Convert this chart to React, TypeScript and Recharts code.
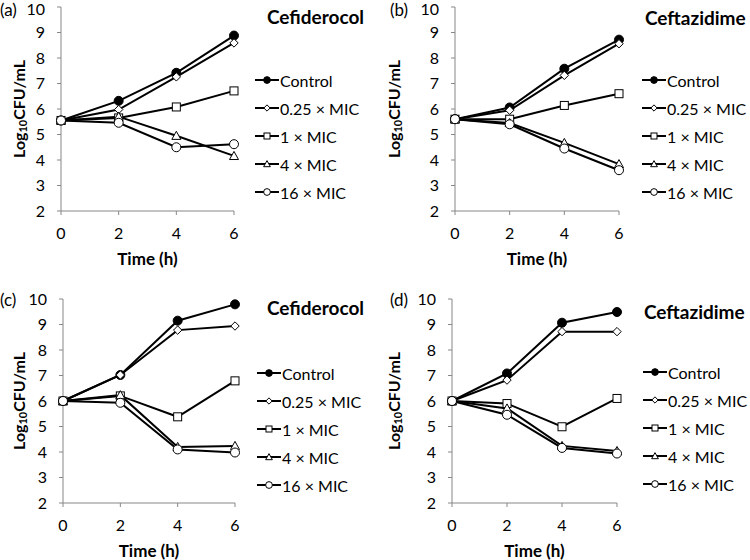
import { Legend, Line, LineChart, XAxis, YAxis } from "recharts";

const TIME_H = [0, 2, 4, 6];
const SERIES_NAMES = ["Control", "0.25 × MIC", "1 × MIC", "4 × MIC", "16 × MIC"];
const Y_TICKS = [2, 3, 4, 5, 6, 7, 8, 9, 10];

// (a) Cefiderocol
const A_CONTROL = [5.55, 6.32, 7.42, 8.88];
const A_MIC025 = [5.55, 5.98, 7.26, 8.59];
const A_MIC1 = [5.55, 5.65, 6.08, 6.71];
const A_MIC4 = [5.55, 5.7, 4.95, 4.16];
const A_MIC16 = [5.55, 5.46, 4.5, 4.62];

// (b) Ceftazidime
const B_CONTROL = [5.6, 6.06, 7.58, 8.72];
const B_MIC025 = [5.6, 5.95, 7.32, 8.56];
const B_MIC1 = [5.6, 5.6, 6.14, 6.6];
const B_MIC4 = [5.6, 5.45, 4.67, 3.84];
const B_MIC16 = [5.6, 5.4, 4.45, 3.6];

// (c) Cefiderocol
const C_CONTROL = [6.0, 7.02, 9.15, 9.79];
const C_MIC025 = [6.0, 7.02, 8.78, 8.94];
const C_MIC1 = [6.0, 6.2, 5.38, 6.79];
const C_MIC4 = [6.0, 6.23, 4.2, 4.24];
const C_MIC16 = [6.0, 5.93, 4.1, 3.98];

// (d) Ceftazidime
const D_CONTROL = [6.0, 7.08, 9.07, 9.49];
const D_MIC025 = [6.0, 6.82, 8.72, 8.72];
const D_MIC1 = [6.0, 5.9, 4.99, 6.1];
const D_MIC4 = [6.0, 5.71, 4.24, 4.04];
const D_MIC16 = [6.0, 5.46, 4.16, 3.94];

const KEYS = ["control", "mic025", "mic1", "mic4", "mic16"];
const SHAPES = ["dot", "diamond", "square", "triangle", "circle"];

const FONT = "Lato, 'Open Sans', sans-serif";
const AXIS_GRAY = "#878787";

const buildRows = (series: number[][]) =>
  TIME_H.map((t, i) => {
    const row: Record<string, number> = { t };
    KEYS.forEach((k, j) => (row[k] = series[j][i]));
    return row;
  });

const Marker = ({ shape, cx, cy, s = 1 }: { shape: string; cx: number; cy: number; s?: number }) => {
  if (cx == null || cy == null) return null;
  const st = { stroke: "#000", strokeWidth: 1 };
  switch (shape) {
    case "dot":
      return <circle cx={cx} cy={cy} r={4.5 * s} fill="#000" {...st} />;
    case "diamond": {
      const r = 4.2 * s;
      return (
        <polygon
          points={`${cx},${cy - r} ${cx + r},${cy} ${cx},${cy + r} ${cx - r},${cy}`}
          fill="#fff"
          {...st}
        />
      );
    }
    case "square": {
      const h = 4 * s;
      return <rect x={cx - h} y={cy - h} width={2 * h} height={2 * h} fill="#fff" {...st} />;
    }
    case "triangle": {
      const h = 4.5 * s;
      return (
        <polygon
          points={`${cx},${cy - h} ${cx + h},${cy + h * 0.8} ${cx - h},${cy + h * 0.8}`}
          fill="#fff"
          {...st}
        />
      );
    }
    default:
      return <circle cx={cx} cy={cy} r={4.5 * s} fill="#fff" {...st} />;
  }
};

const keyOf = (p: any) => p.dataKey ?? p.payload?.dataKey;

const LegendBox = ({ payload }: any) => {
  const items = [...(payload || [])].sort((a, b) => KEYS.indexOf(keyOf(a)) - KEYS.indexOf(keyOf(b)));
  return (
    <div style={{ fontFamily: FONT, fontSize: 16, color: "#000" }}>
      {items.map((p: any) => {
        const idx = KEYS.indexOf(keyOf(p));
        return (
          <div key={p.value} style={{ display: "flex", alignItems: "center", height: 28, whiteSpace: "nowrap" }}>
            <svg width={24} height={14} style={{ marginRight: 1 }}>
              <line x1={0} y1={7} x2={24} y2={7} stroke="#000" strokeWidth={2} />
              <Marker shape={SHAPES[idx]} cx={12} cy={7} s={0.75} />
            </svg>
            <span>{p.value}</span>
          </div>
        );
      })}
    </div>
  );
};

const YLabel = ({ viewBox, dx }: any) => {
  const x = viewBox.x + viewBox.width - dx;
  const y = viewBox.y + viewBox.height / 2;
  return (
    <text
      x={x}
      y={y}
      transform={`rotate(-90, ${x}, ${y})`}
      textAnchor="middle"
      dominantBaseline="central"
      fontFamily={FONT}
      fontWeight="bold"
      fontSize={16}
      fill="#000"
    >
      Log<tspan dy={4} fontSize={11}>10</tspan>
      <tspan dy={-4}>CFU/mL</tspan>
    </text>
  );
};

interface PanelProps {
  left: number;
  top: number;
  letter: string;
  letterX: number;
  title: string;
  titleX: number;
  titleY: number;
  plotLeft: number;
  plotRight: number;
  plotTop: number;
  legendLeft: number;
  legendTop: number;
  series: number[][];
}

const Panel = (p: PanelProps) => {
  const data = buildRows(p.series);
  const W = 375;
  const H = 280;
  const plotH = 204;
  const xAxisH = 56;
  return (
    <div style={{ position: "absolute", left: p.left, top: p.top, width: W, height: H }}>
      <LineChart
        width={W}
        height={H}
        data={data}
        margin={{ top: p.plotTop, left: 0, right: W - p.plotRight, bottom: H - p.plotTop - plotH - xAxisH }}
      >
        <XAxis
          dataKey="t"
          type="number"
          domain={[0, 6]}
          ticks={TIME_H}
          height={xAxisH}
          tickSize={4}
          tickMargin={13}
          stroke={AXIS_GRAY}
          tick={{ fill: "#000", fontSize: 16, fontFamily: FONT }}
          label={{
            value: "Time (h)",
            position: "insideBottom",
            offset: 2,
            fill: "#000",
            fontSize: 17,
            fontWeight: "bold",
            fontFamily: FONT,
          }}
        />
        <YAxis
          type="number"
          domain={[2, 10]}
          ticks={Y_TICKS}
          width={p.plotLeft}
          tickSize={4}
          tickMargin={12}
          stroke={AXIS_GRAY}
          tick={{ fill: "#000", fontSize: 16, fontFamily: FONT }}
          label={<YLabel dx={p.plotLeft - 18} />}
        />
        {KEYS.map((k, i) => (
          <Line
            key={k}
            dataKey={k}
            name={SERIES_NAMES[i]}
            type="linear"
            stroke="#000"
            strokeWidth={2}
            isAnimationActive={false}
            dot={(d: any) => <Marker key={`${k}-${d.index}`} shape={SHAPES[i]} cx={d.cx} cy={d.cy} />}
            activeDot={false}
          />
        ))}
        <Legend
          layout="vertical"
          align="center"
          verticalAlign="middle"
          wrapperStyle={{ left: p.legendLeft, top: p.legendTop, width: "auto" }}
          content={(lp: any) => <LegendBox payload={lp.payload} />}
        />
      </LineChart>
      <div
        style={{
          position: "absolute",
          left: p.letterX,
          top: Math.max(0, p.plotTop - 9),
          fontFamily: FONT,
          fontSize: 17,
          lineHeight: "20px",
        }}
      >
        {p.letter}
      </div>
      <div
        style={{
          position: "absolute",
          left: p.titleX,
          top: p.titleY - 12,
          fontFamily: FONT,
          fontSize: 19,
          fontWeight: "bold",
          lineHeight: "24px",
          whiteSpace: "nowrap",
        }}
      >
        {p.title}
      </div>
    </div>
  );
};

export default function App() {
  return (
    <div style={{ position: "absolute", left: 0, top: 0, width: 750, height: 560, background: "#fff" }}>
      <Panel
        left={0}
        top={0}
        letter="(a)"
        letterX={0}
        title="Cefiderocol"
        titleX={267}
        titleY={17}
        plotLeft={61}
        plotRight={234}
        plotTop={7}
        legendLeft={255}
        legendTop={66}
        series={[A_CONTROL, A_MIC025, A_MIC1, A_MIC4, A_MIC16]}
      />
      <Panel
        left={375}
        top={0}
        letter="(b)"
        letterX={15}
        title="Ceftazidime"
        titleX={270}
        titleY={18}
        plotLeft={80}
        plotRight={244}
        plotTop={7}
        legendLeft={267}
        legendTop={66}
        series={[B_CONTROL, B_MIC025, B_MIC1, B_MIC4, B_MIC16]}
      />
      <Panel
        left={0}
        top={280}
        letter="(c)"
        letterX={0}
        title="Cefiderocol"
        titleX={267}
        titleY={28}
        plotLeft={63}
        plotRight={235}
        plotTop={19}
        legendLeft={257}
        legendTop={79}
        series={[C_CONTROL, C_MIC025, C_MIC1, C_MIC4, C_MIC16]}
      />
      <Panel
        left={375}
        top={280}
        letter="(d)"
        letterX={15}
        title="Ceftazidime"
        titleX={269}
        titleY={32}
        plotLeft={77}
        plotRight={242}
        plotTop={19}
        legendLeft={268}
        legendTop={78}
        series={[D_CONTROL, D_MIC025, D_MIC1, D_MIC4, D_MIC16]}
      />
    </div>
  );
}
